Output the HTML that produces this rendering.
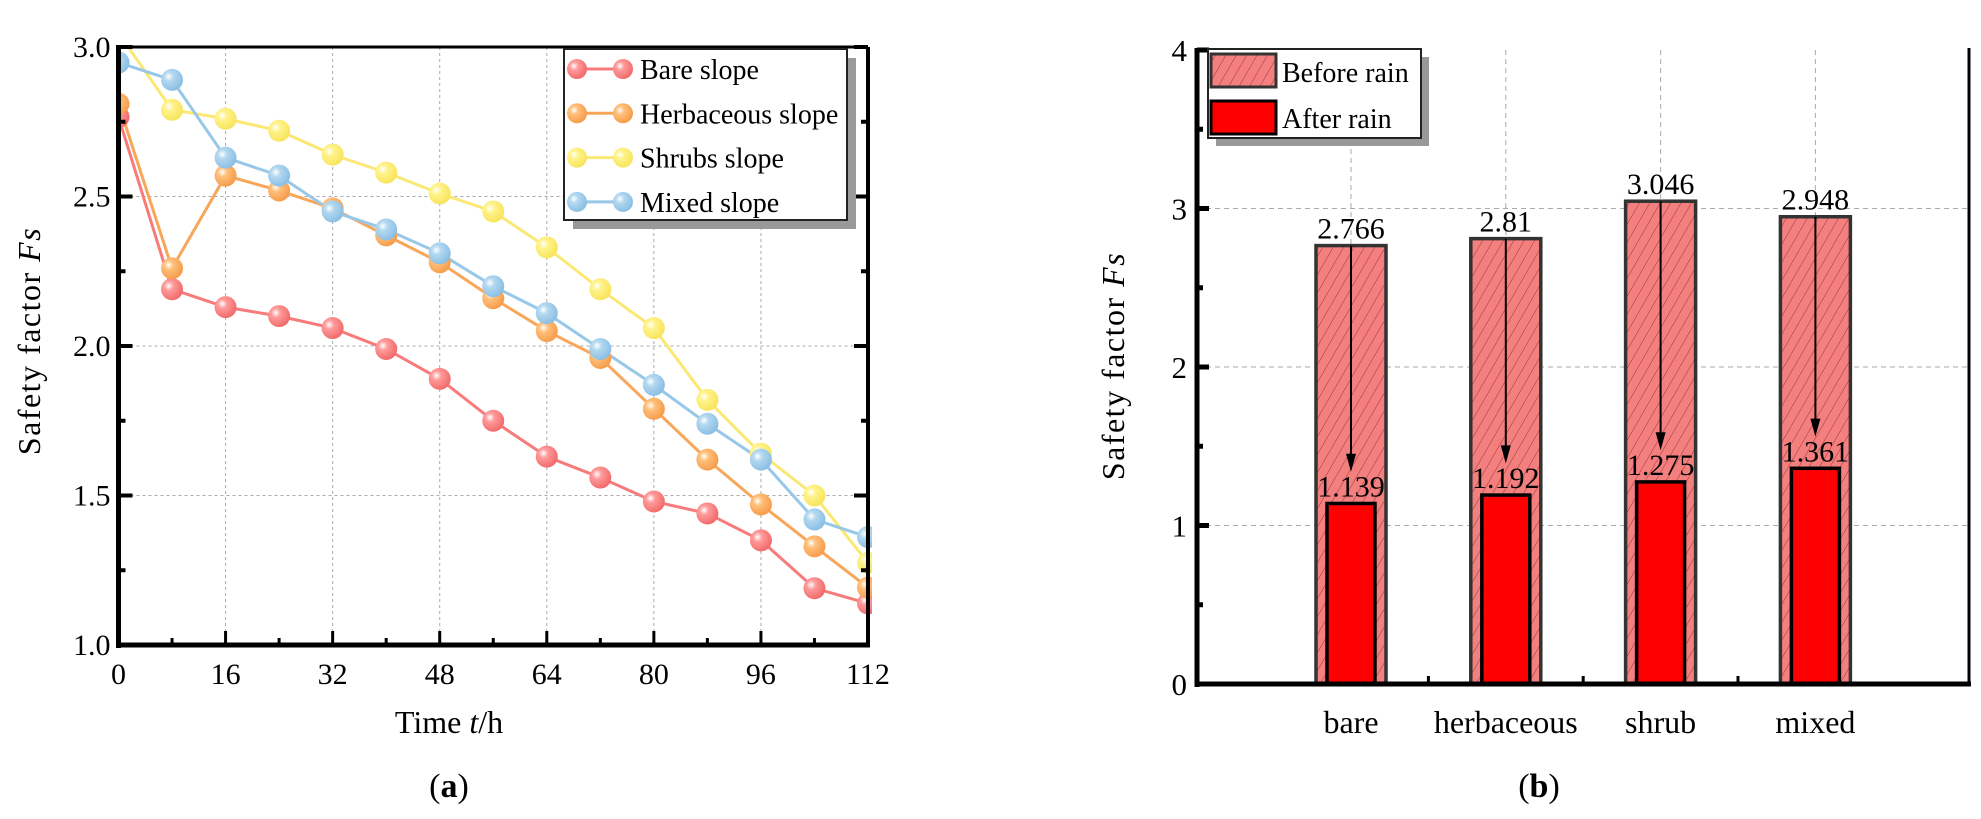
<!DOCTYPE html>
<html><head><meta charset="utf-8"><style>
html,body{margin:0;padding:0;background:#fff}
svg{display:block;font-family:"Liberation Serif",serif}
</style></head><body>
<svg id="fig" width="1981" height="819" viewBox="0 0 1981 819" xmlns="http://www.w3.org/2000/svg">
<defs>
<clipPath id="clipA"><rect x="116" y="45" width="756" height="602"/></clipPath>
<pattern id="hatch" patternUnits="userSpaceOnUse" width="9" height="9" patternTransform="rotate(30)">
<rect width="9" height="9" fill="#f47f7f"/><line x1="0" y1="0" x2="0" y2="9" stroke="#9a3a3a" stroke-width="1"/></pattern>
<radialGradient id="gRed" cx="0.35" cy="0.35" r="0.7"><stop offset="0" stop-color="#fff"/><stop offset="0.3" stop-color="#ff9a9a"/><stop offset="1" stop-color="#f06868"/></radialGradient>
<radialGradient id="gOrange" cx="0.35" cy="0.35" r="0.7"><stop offset="0" stop-color="#fff"/><stop offset="0.3" stop-color="#ffc07a"/><stop offset="1" stop-color="#f59a48"/></radialGradient>
<radialGradient id="gYellow" cx="0.35" cy="0.35" r="0.7"><stop offset="0" stop-color="#fff"/><stop offset="0.3" stop-color="#fff38a"/><stop offset="1" stop-color="#f7e35a"/></radialGradient>
<radialGradient id="gBlue" cx="0.35" cy="0.35" r="0.7"><stop offset="0" stop-color="#fff"/><stop offset="0.3" stop-color="#b3d8f0"/><stop offset="1" stop-color="#88bde3"/></radialGradient>
</defs>
<g id="chartA"></g>
<g id="chartB"></g>
<text x="449" y="797" font-size="34" text-anchor="middle">(<tspan font-weight="bold">a</tspan>)</text>
<text x="1539" y="797" font-size="34" text-anchor="middle">(<tspan font-weight="bold">b</tspan>)</text>
</svg>
<script>
// ---------- Chart A data ----------
const timeCats = [0,8,16,24,32,40,48,56,64,72,80,88,96,104,112];
const bareVals = [2.766,2.19,2.13,2.10,2.06,1.99,1.89,1.75,1.63,1.56,1.48,1.44,1.35,1.19,1.139];
const herbVals = [2.81,2.26,2.57,2.52,2.46,2.37,2.28,2.16,2.05,1.96,1.79,1.62,1.47,1.33,1.192];
const shrubVals = [3.046,2.79,2.76,2.72,2.64,2.58,2.51,2.45,2.33,2.19,2.06,1.82,1.64,1.50,1.275];
const mixedVals = [2.948,2.89,2.63,2.57,2.45,2.39,2.31,2.20,2.11,1.99,1.87,1.74,1.62,1.42,1.361];
const seriesNames = ["Bare slope","Herbaceous slope","Shrubs slope","Mixed slope"];
const xTicksA = [0,16,32,48,64,80,96,112];
const yTicksA = [1.0,1.5,2.0,2.5,3.0];
// ---------- Chart B data ----------
const barCats = ["bare","herbaceous","shrub","mixed"];
const beforeVals = [2.766,2.81,3.046,2.948];
const afterVals = [1.139,1.192,1.275,1.361];
const yTicksB = [0,1,2,3,4];

const NS="http://www.w3.org/2000/svg";
function mk(parent,tag,attrs,text){const e=document.createElementNS(NS,tag);for(const k in attrs)e.setAttribute(k,attrs[k]);if(text!==undefined)e.textContent=text;parent.appendChild(e);return e;}

// ===== Chart A =====
const A=document.getElementById('chartA');
const ax0=118.5, ax1=868, ay0=645, ay1=47;
const xA=t=>ax0+(t-0)/(112-0)*(ax1-ax0);
const yA=v=>ay0-(v-1)/(3-1)*(ay0-ay1);
xTicksA.forEach(t=>{ if(t>0&&t<112){const g=mk(A,'line',{x1:xA(t),x2:xA(t),y1:ay1,y2:ay0,stroke:'#aaa','stroke-width':1,'stroke-dasharray':'3,3'});

}});
yTicksA.forEach(v=>{ if(v>1&&v<3){const g=mk(A,'line',{x1:ax0,x2:ax1,y1:yA(v),y2:yA(v),stroke:'#aaa','stroke-width':1,'stroke-dasharray':'3,3'});

}});
const colors=['#f77b7b','#f8a65a','#fbe874','#98c8e8'];
const grads=['url(#gRed)','url(#gOrange)','url(#gYellow)','url(#gBlue)'];
const allVals=[bareVals,herbVals,shrubVals,mixedVals];
const sg=mk(A,'g',{'clip-path':'url(#clipA)'});
allVals.forEach((vals,i)=>{
  const pts=vals.map((v,j)=>xA(timeCats[j])+','+yA(v)).join(' ');
  const pl=mk(sg,'polyline',{points:pts,fill:'none',stroke:colors[i],'stroke-width':3});
  
  
});
allVals.forEach((vals,i)=>{
  vals.forEach((v,j)=>{
    const c=mk(sg,'circle',{cx:xA(timeCats[j]),cy:yA(v),r:11,fill:grads[i]});
    
    
  });
});
mk(A,'line',{x1:ax0,x2:ax0,y1:ay1-2,y2:ay0+3,stroke:'#000','stroke-width':5});
mk(A,'line',{x1:ax0-2,x2:ax1+2,y1:ay0,y2:ay0,stroke:'#000','stroke-width':5});
mk(A,'line',{x1:ax1,x2:ax1,y1:ay1,y2:ay0,stroke:'#000','stroke-width':4});
mk(A,'line',{x1:ax0,x2:ax1,y1:ay1,y2:ay1,stroke:'#000','stroke-width':3});
for(let t=0;t<=112;t+=8){const maj=t%16===0;mk(A,'line',{x1:xA(t),x2:xA(t),y1:ay0,y2:ay0-(maj?14:7),stroke:'#000','stroke-width':3});}
for(let v=1;v<=3.001;v+=0.25){const maj=Math.abs(v*2-Math.round(v*2))<1e-6;
 mk(A,'line',{x1:ax0,x2:ax0+(maj?14:7),y1:yA(v),y2:yA(v),stroke:'#000','stroke-width':4});
 mk(A,'line',{x1:ax1,x2:ax1-(maj?14:7),y1:yA(v),y2:yA(v),stroke:'#000','stroke-width':4});}
xTicksA.forEach(t=>{const e=mk(A,'text',{x:xA(t),y:684,'font-size':30,'text-anchor':'middle'},String(t));

});
yTicksA.forEach(v=>{const e=mk(A,'text',{x:ax0-8,y:yA(v)+10,'font-size':30,'text-anchor':'end'},v.toFixed(1));

});
const xt=mk(A,'text',{x:449,y:733,'font-size':32,'text-anchor':'middle'});
xt.innerHTML='Time <tspan font-style="italic">t</tspan>/h';


const yt=mk(A,'text',{x:0,y:0,'font-size':32,'letter-spacing':'1.5','text-anchor':'middle',transform:'translate(40,341) rotate(-90)'});
yt.innerHTML='Safety factor <tspan font-style="italic">Fs</tspan>';


const lg=mk(A,'g',{});


mk(lg,'rect',{x:573,y:58,width:283,height:171,fill:'#999'});
mk(lg,'rect',{x:564,y:49,width:283,height:171,fill:'#fff',stroke:'#222','stroke-width':2});
seriesNames.forEach((n,i)=>{
  const cy=69+i*44.3;
  const ent=mk(lg,'g',{});
  
  
  mk(ent,'line',{x1:577,x2:623,y1:cy,y2:cy,stroke:colors[i],'stroke-width':3});
  mk(ent,'circle',{cx:577,cy:cy,r:10,fill:grads[i]});
  mk(ent,'circle',{cx:623,cy:cy,r:10,fill:grads[i]});
  mk(ent,'text',{x:640,y:cy+10,'font-size':28},n);
});

// ===== Chart B =====
const B=document.getElementById('chartB');
const bx0=1197, bx1=1969, by0=684, by1=50;
const yB=v=>by0-v/4*(by0-by1);
const xB=i=>1351+i*154.8;
yTicksB.forEach(v=>{ if(v>0&&v<4){const g=mk(B,'line',{x1:bx0,x2:bx1,y1:yB(v),y2:yB(v),stroke:'#aaa','stroke-width':1,'stroke-dasharray':'5,4'});

}});
barCats.forEach((c,i)=>{const g=mk(B,'line',{x1:xB(i),x2:xB(i),y1:by1,y2:by0,stroke:'#aaa','stroke-width':1,'stroke-dasharray':'5,4'});

});
barCats.forEach((c,i)=>{
  const cx=xB(i);
  const b=mk(B,'rect',{x:cx-35,y:yB(beforeVals[i]),width:70,height:by0-yB(beforeVals[i]),fill:'url(#hatch)',stroke:'#333','stroke-width':3.5});
  
  
  const a=mk(B,'rect',{x:cx-24,y:yB(afterVals[i]),width:48,height:by0-yB(afterVals[i]),fill:'#ff0000',stroke:'#000','stroke-width':3.5});
  
  
  const tipY=yB(afterVals[i]+0.2);
  const ar=mk(B,'line',{x1:cx,x2:cx,y1:yB(beforeVals[i]),y2:tipY-14,stroke:'#000','stroke-width':2});
  
  
  mk(B,'path',{d:`M${cx-5},${tipY-18} L${cx+5},${tipY-18} L${cx},${tipY} Z`,fill:'#000'});
  const t1=mk(B,'text',{x:cx,y:yB(beforeVals[i])-7,'font-size':30,'text-anchor':'middle'},String(beforeVals[i]));
  
  
  const t2=mk(B,'text',{x:cx,y:yB(afterVals[i])-7,'font-size':30,'text-anchor':'middle'},String(afterVals[i]));
  
  
  const cl=mk(B,'text',{x:cx,y:733,'font-size':32,'text-anchor':'middle'},c);
  
  
});
mk(B,'line',{x1:bx0,x2:bx0,y1:by1-2,y2:by0+3,stroke:'#000','stroke-width':5});
mk(B,'line',{x1:bx0-2,x2:bx1+2,y1:by0,y2:by0,stroke:'#000','stroke-width':5});
mk(B,'line',{x1:bx1,x2:bx1,y1:by1-2,y2:by0,stroke:'#000','stroke-width':3});
for(let v=0;v<=4;v+=0.5){const maj=v%1===0;mk(B,'line',{x1:bx0,x2:bx0+(maj?12:6),y1:yB(v),y2:yB(v),stroke:'#000','stroke-width':5});}
for(let i=0;i<3;i++){const mx=(xB(i)+xB(i+1))/2;mk(B,'line',{x1:mx,x2:mx,y1:by0,y2:by0-8,stroke:'#000','stroke-width':3});}
yTicksB.forEach(v=>{const e=mk(B,'text',{x:bx0-10,y:yB(v)+11,'font-size':31,'text-anchor':'end'},String(v));

});
const yt2=mk(B,'text',{x:0,y:0,'font-size':32,'letter-spacing':'1.5','text-anchor':'middle',transform:'translate(1124,366) rotate(-90)'});
yt2.innerHTML='Safety factor <tspan font-style="italic">Fs</tspan>';


const lb=mk(B,'g',{});


mk(lb,'rect',{x:1216,y:57,width:213,height:89,fill:'#999'});
mk(lb,'rect',{x:1208,y:49,width:213,height:89,fill:'#fff',stroke:'#222','stroke-width':2});
const e1=mk(lb,'g',{});


mk(e1,'rect',{x:1211,y:54,width:65,height:33,fill:'url(#hatch)',stroke:'#333','stroke-width':3});
mk(e1,'text',{x:1282,y:82,'font-size':28},'Before rain');
const e2=mk(lb,'g',{});


mk(e2,'rect',{x:1211,y:101,width:65,height:33,fill:'#ff0000',stroke:'#000','stroke-width':3});
mk(e2,'text',{x:1282,y:128,'font-size':28},'After rain');
</script>
</body></html>
